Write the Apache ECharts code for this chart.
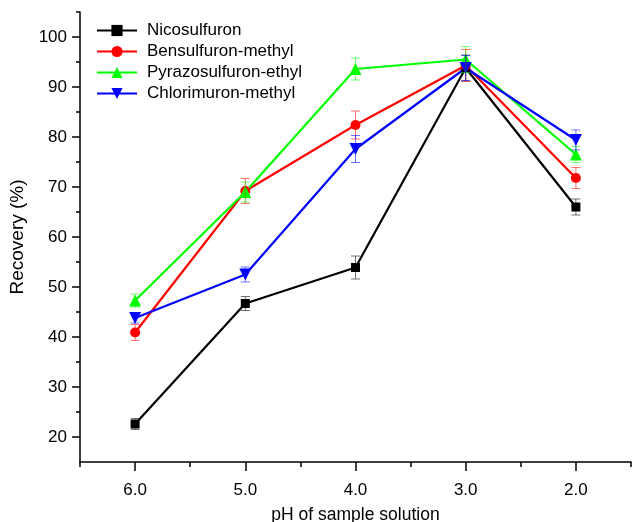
<!DOCTYPE html>
<html>
<head>
<meta charset="utf-8">
<script src="https://cdn.jsdelivr.net/npm/echarts@6/dist/echarts.min.js"></script>
<style>
html,body{margin:0;padding:0;background:#fff;}
#main{width:632px;height:522px;}
</style>
</head>
<body>
<div id="main"></div>
<script>
// pH categories (x values)
const phValues = [6, 5, 4, 3, 2];
const xTickLabels = [6, 5, 4, 3, 2];
const yTickLabels = [20, 30, 40, 50, 60, 70, 80, 90, 100];

// Recovery (%) means
const nicosulfuron = [22.6, 46.7, 53.9, 93.8, 66.0];
const bensulfuron = [40.9, 69.2, 82.4, 94.3, 71.8];
const pyrazosulfuron = [47.3, 69.0, 93.6, 95.5, 76.5];
const chlorimuron = [43.8, 52.5, 77.6, 93.8, 79.4];

// Error bars (±)
const nicosulfuronErr = [1.1, 1.4, 2.3, 2.6, 1.6];
const bensulfuronErr = [1.6, 2.5, 2.8, 3.2, 2.1];
const pyrazosulfuronErr = [1.3, 2.0, 2.2, 2.6, 1.6];
const chlorimuronErr = [1.0, 1.5, 2.7, 2.5, 2.0];

const seriesDefs = [
  {name: 'Nicosulfuron', vals: nicosulfuron, errs: nicosulfuronErr, color: '#000000', symbol: 'rect', size: 9},
  {name: 'Bensulfuron-methyl', vals: bensulfuron, errs: bensulfuronErr, color: '#ff0000', symbol: 'circle', size: 10},
  {name: 'Pyrazosulfuron-ethyl', vals: pyrazosulfuron, errs: pyrazosulfuronErr, color: '#00ff00', symbol: 'triangle', size: 12},
  {name: 'Chlorimuron-methyl', vals: chlorimuron, errs: chlorimuronErr, color: '#0000ff', symbol: 'path://M0,0L2,0L1,1.75Z', size: 12}
];

const FONT = 'Liberation Sans, Arial, sans-serif';

function errRender(color) {
  return function (params, api) {
    const x = api.value(0), y = api.value(1), e = api.value(2);
    const t = api.coord([x, y + e]);
    const b = api.coord([x, y - e]);
    const hw = 4.5;
    const st = {stroke: color, lineWidth: 1, opacity: 0.55};
    return {type: 'group', children: [
      {type: 'line', shape: {x1: t[0], y1: t[1], x2: b[0], y2: b[1]}, style: st},
      {type: 'line', shape: {x1: t[0] - hw, y1: t[1], x2: t[0] + hw, y2: t[1]}, style: st},
      {type: 'line', shape: {x1: b[0] - hw, y1: b[1], x2: b[0] + hw, y2: b[1]}, style: st}
    ]};
  };
}

const series = [];
seriesDefs.forEach(d => {
  series.push({
    type: 'custom',
    name: d.name + ' err',
    renderItem: errRender(d.color),
    data: phValues.map((p, i) => [p, d.vals[i], d.errs[i]]),
    encode: {x: 0, y: 1},
    z: 3,
    silent: true
  });
});
seriesDefs.forEach(d => {
  series.push({
    type: 'line',
    name: d.name,
    data: phValues.map((p, i) => [p, d.vals[i]]),
    symbol: d.symbol,
    symbolSize: d.size,
    showAllSymbol: true,
    lineStyle: {color: d.color, width: 2.2},
    itemStyle: {color: d.color},
    color: d.color,
    z: 2,
    animation: false
  });
});

const chart = echarts.init(document.getElementById('main'), null, {renderer: 'canvas'});
chart.setOption({
  animation: false,
  backgroundColor: '#ffffff',
  grid: {left: 80, right: 1, top: 12, bottom: 60, outerBoundsMode: 'none', containLabel: false},
  legend: {
    orient: 'vertical',
    left: 91,
    top: 17,
    itemWidth: 40,
    itemHeight: 14,
    itemGap: 4,
    data: seriesDefs.map(d => d.name),
    textStyle: {fontFamily: FONT, fontSize: 17, color: '#000', padding: [0, 0, 0, 5]}
  },
  xAxis: [
    {
      type: 'value', min: 1.5, max: 6.5, inverse: true, position: 'bottom',
      splitLine: {show: false},
      axisLine: {lineStyle: {color: '#000', width: 1.5}},
      axisTick: {show: true, length: 9, customValues: xTickLabels, lineStyle: {color: '#000', width: 1.5}},
      axisLabel: {customValues: xTickLabels, formatter: v => v.toFixed(1), fontFamily: FONT, fontSize: 17, color: '#000', margin: 20},
      name: 'pH of sample solution', nameLocation: 'middle', nameGap: 44,
      nameTextStyle: {fontFamily: FONT, fontSize: 17.5, color: '#000'}
    },
    {
      type: 'value', min: 1.5, max: 6.5, inverse: true, position: 'bottom',
      splitLine: {show: false},
      axisLine: {show: false},
      axisTick: {show: true, length: 5, customValues: [1.5, 2.5, 3.5, 4.5, 5.5, 6.5], lineStyle: {color: '#000', width: 1.5}},
      axisLabel: {show: false}
    }
  ],
  yAxis: [
    {
      type: 'value', min: 15, max: 105, position: 'left',
      splitLine: {show: false},
      axisLine: {show: true, lineStyle: {color: '#000', width: 1.5}},
      axisTick: {show: true, length: 8, customValues: yTickLabels, lineStyle: {color: '#000', width: 1.5}},
      axisLabel: {customValues: yTickLabels, fontFamily: FONT, fontSize: 17, color: '#000', margin: 13},
      name: 'Recovery (%)', nameLocation: 'middle', nameGap: 42,
      nameTextStyle: {fontFamily: FONT, fontSize: 19, color: '#000'}
    },
    {
      type: 'value', min: 15, max: 105, position: 'left',
      splitLine: {show: false},
      axisLine: {show: false},
      axisTick: {show: true, length: 4, customValues: [25, 35, 45, 55, 65, 75, 85, 95, 105], lineStyle: {color: '#000', width: 1.5}},
      axisLabel: {show: false}
    }
  ],
  series: series
});
</script>
</body>
</html>
